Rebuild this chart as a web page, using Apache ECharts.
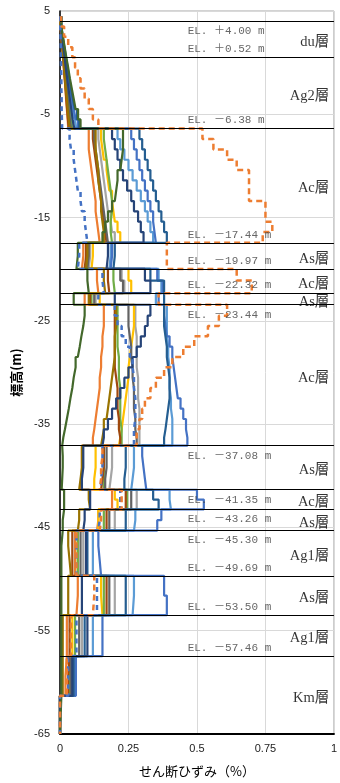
<!DOCTYPE html>
<html><head><meta charset="utf-8">
<script src="https://cdn.jsdelivr.net/npm/echarts@6/dist/echarts.min.js"></script>
<style>html,body{margin:0;padding:0;background:#fff}#c{width:340px;height:783px}</style>
</head><body><div id="c"></div>
<script>
// Segment boundaries (elevation, m), top to bottom
const boundaries = [4.5,3.5,2.5,1.5,0.52,-0.5,-1.5,-2.5,-3.5,-4.5,-5.5,-6.38,
  -7.4,-8.4,-9.4,-10.4,-11.4,-12.4,-13.4,-14.4,-15.4,-16.4,-17.44,
  -18.7,-19.97,-21.1,-22.32,-23.44,
  -24.5,-25.5,-26.5,-27.5,-28.5,-29.5,-30.5,-31.5,-32.5,-33.5,-34.5,-35.5,-36.3,-37.08,
  -38.1,-39.2,-40.3,-41.35,-42.3,-43.26,-44.3,-45.3,-46.8,-48.2,-49.69,-51.6,-53.5,-55.5,-57.46,-59.4,-61.3,-65];

// Shear strain (%) per segment
const blueDashed = [0.001,0.002,0.003,0.003,0.004,0.005,0.005,0.006,0.006,0.007,0.008,
  0.035,0.04,0.05,0.055,0.06,0.065,0.075,0.08,0.09,0.095,0.1, 0.07,0.065, 0.155,0.16, 0.14,
  0.2,0.21,0.225,0.24,0.255,0.265,0.27,0.27,0.275,0.275,0.275,0.27,0.27,0.27,
  0.155,0.155,0.15,0.15, 0.22,0.22, 0.145,0.14, 0.06,0.06,0.06, 0.135,0.135, 0.06,0.06, 0.03,0.03, 0];
const orangeDashed = [0.004,0.015,0.03,0.045,0.055,0.065,0.075,0.09,0.105,0.12,0.14,
  0.52,0.56,0.61,0.645,0.69,0.69,0.69,0.75,0.75,0.775,0.74, 0.39,0.39, 0.645,0.7, 0.36,
  0.61,0.58,0.54,0.49,0.45,0.41,0.38,0.35,0.33,0.31,0.3,0.29,0.28,0.28,
  0.155,0.15,0.15,0.145, 0.225,0.225, 0.15,0.145, 0.06,0.06,0.06, 0.125,0.12, 0.04,0.04, 0.025,0.025, 0];
const orangeSolid = [0.002,0.005,0.008,0.011,0.014,0.017,0.02,0.022,0.025,0.028,0.03,
  0.105,0.105,0.11,0.115,0.12,0.125,0.13,0.13,0.135,0.14,0.145, 0.085,0.08, 0.135,0.14, 0.09,
  0.16,0.16,0.155,0.155,0.15,0.15,0.145,0.145,0.14,0.135,0.13,0.125,0.12,0.12,
  0.08,0.08,0.08,0.075, 0.19,0.19, 0.14,0.135, 0.055,0.055,0.055, 0.065,0.06, 0.025,0.025, 0.02,0.02, 0];
const brown = [0.002,0.005,0.008,0.011,0.014,0.017,0.02,0.023,0.026,0.029,0.032,
  0.12,0.125,0.13,0.135,0.14,0.145,0.15,0.155,0.16,0.165,0.17, 0.095,0.09, 0.175,0.18, 0.11,
  0.2,0.2,0.2,0.2,0.2,0.2,0.205,0.21,0.21,0.21,0.215,0.215,0.22,0.22,
  0.16,0.16,0.155,0.15, 0.24,0.24, 0.17,0.17, 0.045,0.045,0.045, 0.17,0.17, 0.035,0.035, 0.03,0.03, 0];
const olive = [0.002,0.006,0.009,0.012,0.015,0.018,0.021,0.025,0.028,0.032,0.035,
  0.13,0.13,0.135,0.14,0.14,0.145,0.15,0.15,0.155,0.16,0.16, 0.1,0.095, 0.16,0.165, 0.105,
  0.205,0.205,0.2,0.2,0.2,0.195,0.19,0.185,0.18,0.175,0.17,0.16,0.155,0.15,
  0.08,0.08,0.075,0.07, 0.105,0.11, 0.07,0.065, 0.03,0.035,0.04, 0.03,0.03, 0.01,0.01, 0.01,0.01, 0];
const darkGray = [0.003,0.006,0.01,0.013,0.017,0.02,0.024,0.028,0.032,0.036,0.04,
  0.125,0.13,0.135,0.14,0.145,0.15,0.155,0.16,0.165,0.17,0.175, 0.105,0.1, 0.22,0.23, 0.125,
  0.25,0.25,0.255,0.26,0.26,0.265,0.265,0.27,0.27,0.27,0.275,0.275,0.28,0.28,
  0.17,0.17,0.165,0.165, 0.26,0.26, 0.18,0.18, 0.075,0.075,0.075, 0.18,0.18, 0.07,0.07, 0.04,0.04, 0];
const yellow = [0.003,0.006,0.01,0.014,0.018,0.021,0.025,0.029,0.033,0.038,0.042,
  0.15,0.155,0.16,0.17,0.175,0.18,0.19,0.195,0.2,0.21,0.22, 0.12,0.115, 0.25,0.26, 0.145,
  0.27,0.27,0.265,0.26,0.255,0.25,0.25,0.245,0.24,0.235,0.23,0.225,0.22,0.215,
  0.13,0.13,0.125,0.125, 0.2,0.21, 0.14,0.14, 0.065,0.065,0.065, 0.15,0.155, 0.045,0.045, 0.035,0.035, 0];
const green = [0.003,0.007,0.011,0.015,0.019,0.023,0.027,0.031,0.035,0.04,0.045,
  0.16,0.165,0.17,0.175,0.18,0.185,0.19,0.19,0.185,0.185,0.19, 0.1,0.095, 0.195,0.2, 0.115,
  0.21,0.21,0.21,0.21,0.215,0.215,0.215,0.22,0.22,0.22,0.22,0.225,0.225,0.225,
  0.16,0.16,0.16,0.16, 0.245,0.245, 0.16,0.16, 0.065,0.065,0.065, 0.16,0.16, 0.055,0.055, 0.035,0.035, 0];
const gray = [0.003,0.007,0.012,0.016,0.021,0.025,0.03,0.034,0.039,0.044,0.05,
  0.14,0.145,0.15,0.155,0.16,0.165,0.17,0.175,0.185,0.19,0.2, 0.11,0.105, 0.225,0.235, 0.13,
  0.275,0.275,0.28,0.28,0.28,0.28,0.285,0.285,0.285,0.29,0.29,0.29,0.29,0.29,
  0.19,0.19,0.185,0.18, 0.28,0.28, 0.2,0.2, 0.085,0.085,0.085, 0.2,0.2, 0.08,0.08, 0.045,0.045, 0];
const navy = [0.004,0.008,0.012,0.017,0.021,0.026,0.031,0.036,0.041,0.046,0.052,
  0.19,0.2,0.21,0.22,0.23,0.245,0.26,0.27,0.285,0.295,0.305, 0.175,0.17, 0.31,0.33, 0.2,
  0.33,0.32,0.31,0.295,0.28,0.265,0.25,0.235,0.22,0.205,0.19,0.175,0.16,0.155,
  0.085,0.085,0.08,0.08, 0.11,0.11, 0.09,0.085, 0.095,0.095,0.095, 0.08,0.08, 0.1,0.1, 0.045,0.045, 0];
const lightBlue = [0.004,0.009,0.014,0.019,0.024,0.029,0.035,0.04,0.046,0.053,0.06,
  0.21,0.22,0.235,0.25,0.265,0.28,0.295,0.31,0.32,0.33,0.34, 0.185,0.18, 0.36,0.37, 0.35,
  0.39,0.39,0.39,0.395,0.395,0.4,0.4,0.4,0.405,0.405,0.41,0.41,0.41,0.41,
  0.27,0.27,0.265,0.26, 0.4,0.405, 0.275,0.27, 0.12,0.12,0.12, 0.27,0.265, 0.12,0.12, 0.05,0.05, 0];
const blue = [0.004,0.009,0.015,0.02,0.026,0.032,0.038,0.044,0.05,0.057,0.065,
  0.26,0.27,0.28,0.29,0.3,0.31,0.32,0.33,0.34,0.345,0.35, 0.19,0.185, 0.355,0.375, 0.36,
  0.38,0.385,0.39,0.4,0.41,0.415,0.42,0.425,0.43,0.44,0.45,0.46,0.465,0.465,
  0.3,0.305,0.31,0.315, 0.5,0.525, 0.37,0.355, 0.14,0.145,0.15, 0.38,0.39, 0.155,0.155, 0.058,0.058, 0];
const steel = [0.005,0.01,0.016,0.022,0.028,0.034,0.04,0.047,0.054,0.062,0.07,
  0.29,0.3,0.31,0.32,0.33,0.34,0.35,0.36,0.37,0.38,0.39, 0.2,0.195, 0.33,0.38, 0.38,
  0.38,0.38,0.385,0.39,0.39,0.395,0.4,0.4,0.4,0.395,0.39,0.385,0.38,0.38,
  0.24,0.24,0.235,0.235, 0.34,0.36, 0.24,0.24, 0.1,0.1,0.1, 0.24,0.24, 0.09,0.09, 0.05,0.05, 0];
const darkGreen = [0.005,0.011,0.017,0.023,0.03,0.036,0.043,0.05,0.057,0.066,0.075,
  0.23,0.23,0.225,0.22,0.21,0.205,0.2,0.19,0.175,0.165,0.155, 0.065,0.06, 0.1,0.105, 0.05,
  0.09,0.085,0.078,0.072,0.065,0.057,0.05,0.045,0.038,0.032,0.025,0.018,0.012,0.008,
  0.01,0.01,0.008,0.006, 0.015,0.015, 0.01,0.01, 0.005,0.005,0.005, 0.005,0.005, 0.005,0.005, 0.005,0.005, 0];

// Layer boundaries (EL labels) and layers
const elValues = [4.00, 0.52, -6.38, -17.44, -19.97, -22.32, -23.44, -37.08, -41.35, -43.26, -45.30, -49.69, -53.50, -57.46];
const elSides = ['below','above','above','above','above','above','below','below','below','below','below','above','above','above'];
const layerNames = ['du層','Ag2層','Ac層','As層','Ac層','As層','Ac層','As層','Ac層','As層','Ag1層','As層','Ag1層','Km層'];
const layerTops = [4.00, 0.52, -6.38, -17.44, -19.97, -22.32, -23.44, -37.08, -41.35, -43.26, -45.30, -49.69, -53.50, -57.46];
const layerBottoms = [0.52, -6.38, -17.44, -19.97, -22.32, -23.44, -37.08, -41.35, -43.26, -45.30, -49.69, -53.50, -57.46, -65];
const xTicks = [0, 0.25, 0.5, 0.75, 1];
const yTicks = [-65, -55, -45, -35, -25, -15, -5, 5];

function profile(vals) {
  const pts = [];
  vals.forEach((v, i) => { pts.push([v, boundaries[i]]); pts.push([v, boundaries[i + 1]]); });
  return pts;
}
function elText(v) {
  return 'EL. ' + (v >= 0 ? '＋' : '－') + Math.abs(v).toFixed(2) + ' m';
}

const solid = [
  [orangeSolid, '#ED7D31'], [gray, '#A5A5A5'], [yellow, '#FFC000'], [green, '#70AD47'],
  [brown, '#9E480E'], [darkGray, '#636363'], [olive, '#997300'], [lightBlue, '#5B9BD5'],
  [blue, '#4472C4'], [steel, '#255E91'], [navy, '#264478'], [darkGreen, '#43682B']
];
const series = solid.map(([d, c]) => ({
  type: 'line', data: profile(d), showSymbol: false, symbol: 'none', silent: true,
  lineStyle: { color: c, width: 2.2 }, z: 3
}));
series.push({ type: 'line', data: profile(blueDashed), symbol: 'none', silent: true,
  lineStyle: { color: '#4472C4', width: 2.5, type: [5, 4] }, z: 4 });
series.push({ type: 'line', data: profile(orangeDashed), symbol: 'none', silent: true,
  lineStyle: { color: '#ED7D31', width: 2.5, type: [6, 4] }, z: 4 });

// Boundary lines
series.push({ type: 'line', data: [], silent: true, z: 5,
  markLine: { silent: true, symbol: 'none', animation: false,
    lineStyle: { color: '#000', width: 1.2, type: 'solid' }, label: { show: false },
    data: elValues.map(v => ({ yAxis: v })) } });

// EL labels
series.push({ type: 'scatter', symbolSize: 0, silent: true, z: 6,
  data: elValues.map((v, i) => ({
    value: [0.466, v],
    label: { show: true, position: 'right', distance: 0, formatter: elText(v),
      offset: [0, elSides[i] === 'above' ? -8 : 10],
      fontFamily: "'Liberation Mono','Noto Sans CJK JP'", fontSize: 11, color: '#404040' }
  })) });

// Layer names
series.push({ type: 'scatter', symbolSize: 0, silent: true, z: 6,
  data: layerNames.map((n, i) => ({
    value: [0.983, (layerTops[i] + layerBottoms[i]) / 2],
    label: { show: true, position: 'left', distance: 0, formatter: n, offset: [0, 3],
      fontFamily: "'Liberation Serif','Noto Sans CJK JP'", fontSize: 14.5, color: '#000' }
  })) });

const chart = echarts.init(document.getElementById('c'), null, { renderer: 'canvas' });
chart.setOption({
  animation: false,
  grid: { left: 60, right: 2, top: 11, bottom: 48, containLabel: false,
    show: true, borderColor: '#a6a6a6', borderWidth: 1, backgroundColor: 'transparent' },
  xAxis: {
    type: 'value', min: xTicks[0], max: xTicks[xTicks.length - 1], interval: 0.25,
    name: 'せん断ひずみ（%）', nameLocation: 'middle', nameGap: 31,
    nameTextStyle: { fontSize: 13, color: '#000', fontFamily: "'Noto Sans CJK JP'" },
    axisLine: { show: true, onZero: false, lineStyle: { color: '#000', width: 2 } },
    axisTick: { show: false },
    axisLabel: { fontSize: 11, color: '#222', margin: 9, fontFamily: "'Liberation Sans'",
      formatter: v => String(v) },
    splitLine: { show: true, lineStyle: { color: '#d9d9d9', width: 1 } }
  },
  yAxis: {
    type: 'value', min: yTicks[0], max: yTicks[yTicks.length - 1], interval: 10,
    name: '標高(m)', nameLocation: 'middle', nameGap: 37,
    nameTextStyle: { fontSize: 13, color: '#000', fontWeight: 'bold', fontFamily: "'Noto Sans CJK JP'" },
    axisLine: { show: true, onZero: false, lineStyle: { color: '#000', width: 1.5 } },
    axisTick: { show: false },
    axisLabel: { fontSize: 11, color: '#222', margin: 10, fontFamily: "'Liberation Sans'" },
    splitLine: { show: true, lineStyle: { color: '#d9d9d9', width: 1 } }
  },
  series: series
});
</script></body></html>
